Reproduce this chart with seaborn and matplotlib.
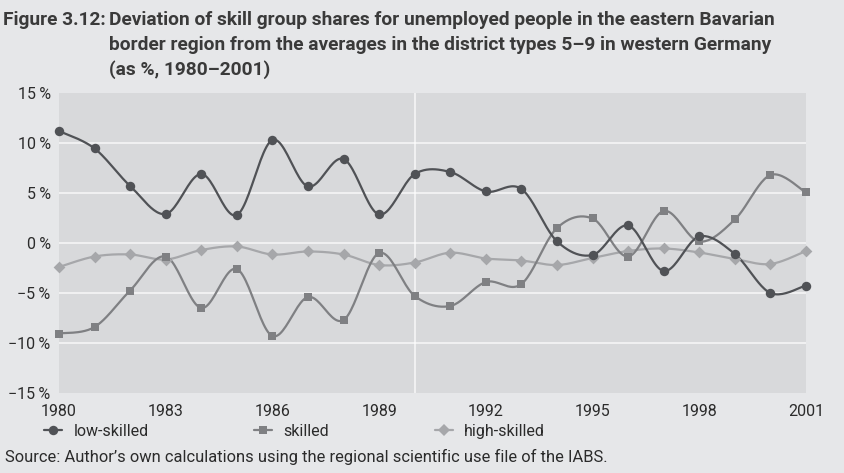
import numpy as np
import pandas as pd
import matplotlib
matplotlib.use("Agg")
import matplotlib.pyplot as plt
from matplotlib.lines import Line2D
import seaborn as sns

years = list(range(1980, 2002))
low_skilled = [11.2, 9.45, 5.7, 2.9, 6.9, 2.8, 10.3, 5.65, 8.4, 2.85, 6.9,
               7.1, 5.15, 5.4, 0.17, -1.2, 1.75, -2.8, 0.65, -1.1, -5.0, -4.25]
skilled = [-9.05, -8.4, -4.75, -1.35, -6.5, -2.6, -9.3, -5.4, -7.7, -1.0, -5.3,
           -6.3, -3.9, -4.1, 1.5, 2.45, -1.35, 3.2, 0.15, 2.35, 6.8, 5.05]
high_skilled = [-2.4, -1.35, -1.15, -1.65, -0.7, -0.35, -1.15, -0.85, -1.15, -2.2, -1.95,
                -0.97, -1.55, -1.75, -2.2, -1.5, -0.8, -0.55, -0.95, -1.6, -2.1, -0.8]
series_names = ["low-skilled", "skilled", "high-skilled"]
x_ticks = [1980, 1983, 1986, 1989, 1992, 1995, 1998, 2001]
y_ticks = [-15, -10, -5, 0, 5, 10, 15]

colors = {"low-skilled": "#505256", "skilled": "#7f8083", "high-skilled": "#a6a7aa"}
markers = {"low-skilled": "o", "skilled": "s", "high-skilled": "D"}
msizes = {"low-skilled": 6.8, "skilled": 6.2, "high-skilled": 6.0}

FIG_BG = "#e6e7e9"
AX_BG = "#d8d9db"
TEXT = "#2b2b2b"


def smooth(x, y, steps=24):
    """Catmull-Rom style smoothing through every point (Bezier form, tension 1/6)."""
    x = np.asarray(x, float)
    y = np.asarray(y, float)
    n = len(x)
    px, py = [], []
    for i in range(n - 1):
        p0 = (x[max(i - 1, 0)], y[max(i - 1, 0)])
        p1 = (x[i], y[i])
        p2 = (x[i + 1], y[i + 1])
        p3 = (x[min(i + 2, n - 1)], y[min(i + 2, n - 1)])
        c1 = (p1[0] + (p2[0] - p0[0]) / 6, p1[1] + (p2[1] - p0[1]) / 6)
        c2 = (p2[0] - (p3[0] - p1[0]) / 6, p2[1] - (p3[1] - p1[1]) / 6)
        t = np.linspace(0, 1, steps, endpoint=(i == n - 2))
        b0 = (1 - t) ** 3
        b1 = 3 * (1 - t) ** 2 * t
        b2 = 3 * (1 - t) * t ** 2
        b3 = t ** 3
        px.append(b0 * p1[0] + b1 * c1[0] + b2 * c2[0] + b3 * p2[0])
        py.append(b0 * p1[1] + b1 * c1[1] + b2 * c2[1] + b3 * p2[1])
    return np.concatenate(px), np.concatenate(py)


sns.set_theme(style="white")
plt.rcParams["font.family"] = ["Roboto", "DejaVu Sans"]

fig = plt.figure(figsize=(8.44, 4.73), dpi=100, facecolor=FIG_BG)
ax = fig.add_axes([59 / 844, 1 - 393 / 473, (806 - 59) / 844, (393 - 93) / 473])
ax.set_facecolor(AX_BG)

# gridlines
for v in [-10, -5, 0, 5, 10]:
    ax.axhline(v, color="white", lw=1.2, alpha=0.75, zorder=1)
ax.axvline(1990, color="white", lw=1.2, alpha=0.75, zorder=1)

data = {"low-skilled": low_skilled, "skilled": skilled, "high-skilled": high_skilled}
draw_order = ["high-skilled", "skilled", "low-skilled"]
for name in draw_order:
    vals = data[name]
    sx, sy = smooth(years, vals)
    curve = pd.DataFrame({"year": sx, "value": sy})
    sns.lineplot(data=curve, x="year", y="value", ax=ax, color=colors[name],
                 lw=1.6, sort=False, estimator=None, zorder=3)
    pts = pd.DataFrame({"year": years, "value": vals})
    sns.scatterplot(data=pts, x="year", y="value", ax=ax, color=colors[name],
                    marker=markers[name], s=msizes[name] ** 2, linewidth=0,
                    zorder=4, clip_on=False)

ax.set_xlim(1980, 2001)
ax.set_ylim(-15, 15)
ax.set_xticks(x_ticks)
ax.set_xticklabels([str(t) for t in x_ticks])
ax.set_yticks(y_ticks)
ax.set_yticklabels([("\u2212" if t < 0 else "") + f"{abs(t)}\u2009%" for t in y_ticks])
ax.tick_params(axis="both", length=0, labelsize=11.5, colors=TEXT)
ax.tick_params(axis="x", pad=8)
ax.tick_params(axis="y", pad=6)
ax.set_xlabel("")
ax.set_ylabel("")
for s in ax.spines.values():
    s.set_visible(False)

# title
title_font = dict(fontsize=13.8, fontweight="bold", color="#3a3a3a", va="center")
fig.text(3 / 844, 1 - 20 / 473, "Figure 3.12:", **title_font)
title_lines = [
    "Deviation of skill group shares for unemployed people in the eastern Bavarian",
    "border region from the averages in the district types 5\u20139 in western Germany",
    "(as %, 1980\u20132001)",
]
for i, line in enumerate(title_lines):
    fig.text(109 / 844, 1 - (20 + 25 * i) / 473, line, **title_font)

# legend
handles = [Line2D([], [], color=colors[n], marker=markers[n], markersize=msizes[n],
                  lw=1.6, markeredgewidth=0) for n in series_names]
fig.legend(handles, series_names, loc="center left", bbox_to_anchor=(44 / 844, 1 - 431 / 473),
           ncol=3, frameon=False, fontsize=11.5, handlelength=1.15, handletextpad=0.7,
           columnspacing=6.6, labelcolor=TEXT, borderaxespad=0, borderpad=0)

fig.text(5 / 844, 1 - 457 / 473,
         "Source: Author\u2019s own calculations using the regional scientific use file of the IABS.",
         fontsize=11.9, color=TEXT, va="center")

fig.savefig("out.png", dpi=100, facecolor=FIG_BG)
